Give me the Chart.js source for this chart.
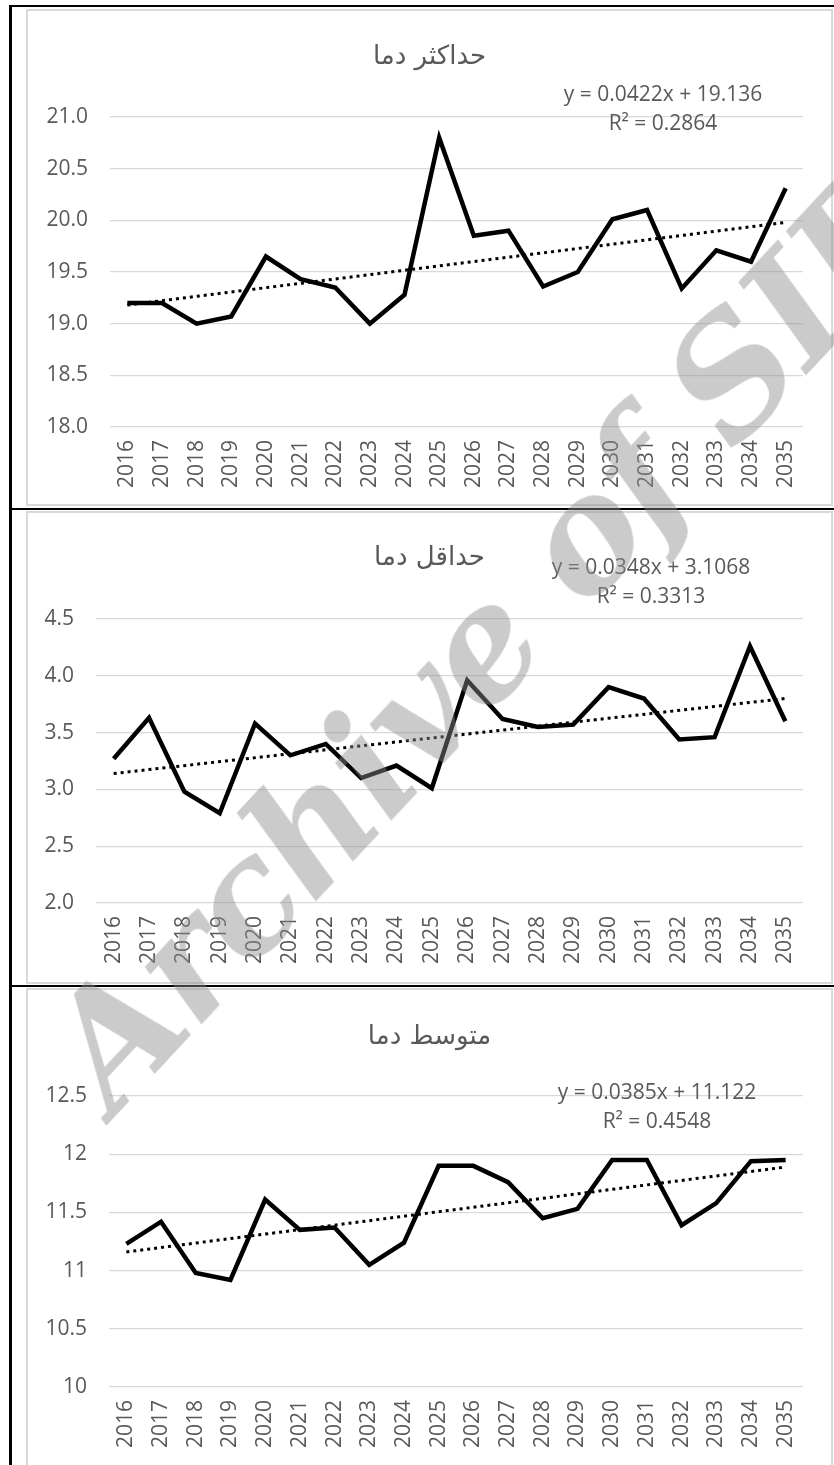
<!DOCTYPE html>
<html>
<head>
<meta charset="utf-8">
<script src="https://cdn.jsdelivr.net/npm/chart.js@4.4.1/dist/chart.umd.min.js"></script>
<style>
  html, body { margin: 0; padding: 0; background: #fff; }
  body { width: 834px; height: 1465px; position: relative; overflow: hidden; }
  .frame { position: absolute; left: 26px; width: 807px; border: 2px solid #d9d9d9; box-sizing: border-box; }
  .frame canvas { display: block; }
  .rule { position: absolute; background: #000; }
  #mark {
    position: absolute; left: 491px; top: 634px;
    transform: translate(-50%, -50%) rotate(-47deg);
    font: italic bold 156px "DejaVu Serif";
    letter-spacing: -3px;
    color: rgba(140, 140, 140, 0.45);
    white-space: nowrap; line-height: 1; pointer-events: none;
  }
</style>
</head>
<body>
<div class="rule" style="left:9px;top:5px;width:3px;height:1465px"></div>
<div class="rule" style="left:9px;top:5px;width:825px;height:2px"></div>
<div class="rule" style="left:9px;top:508px;width:825px;height:2px"></div>
<div class="rule" style="left:9px;top:985px;width:825px;height:2px"></div>

<div class="frame" style="top:9px;height:497px"><canvas id="c1" width="803" height="493"></canvas></div>
<div class="frame" style="top:511px;height:473px"><canvas id="c2" width="803" height="469"></canvas></div>
<div class="frame" style="top:988px;height:482px"><canvas id="c3" width="803" height="478"></canvas></div>

<div id="mark">Archive of SID</div>

<script>
// years on the x axis
const years = ['2016', '2017', '2018', '2019', '2020', '2021', '2022', '2023', '2024', '2025',
               '2026', '2027', '2028', '2029', '2030', '2031', '2032', '2033', '2034', '2035'];

// maximum temperature
const maxTemp = [19.2, 19.2, 19.0, 19.07, 19.65, 19.43, 19.35, 19.0, 19.28, 20.8,
                 19.85, 19.9, 19.36, 19.5, 20.01, 20.1, 19.34, 19.71, 19.6, 20.31];
const maxTrend = [19.18, 19.98];
// minimum temperature
const minTemp = [3.27, 3.63, 2.98, 2.79, 3.58, 3.30, 3.40, 3.10, 3.21, 3.01,
                 3.96, 3.62, 3.55, 3.57, 3.90, 3.80, 3.44, 3.46, 4.26, 3.60];
const minTrend = [3.14, 3.80];
// mean temperature
const meanTemp = [11.23, 11.42, 10.98, 10.92, 11.61, 11.35, 11.37, 11.05, 11.24, 11.90,
                  11.90, 11.76, 11.45, 11.53, 11.95, 11.95, 11.39, 11.58, 11.94, 11.95];
const meanTrend = [11.16, 11.89];

const titles = ['حداکثر دما', 'حداقل دما', 'متوسط دما'];
const equations = [
  ['y = 0.0422x + 19.136', 'R² = 0.2864'],
  ['y = 0.0348x + 3.1068', 'R² = 0.3313'],
  ['y = 0.0385x + 11.122', 'R² = 0.4548']
];

const GRAY = '#595959';
const tickFont = { family: '"Open Sans"', size: 21 };

// chart title and trendline equation text
const chartText = {
  id: 'chartText',
  afterDraw(chart, args, opts) {
    const ctx = chart.ctx;
    ctx.save();
    ctx.fillStyle = GRAY;
    ctx.textAlign = 'center';
    ctx.textBaseline = 'middle';
    ctx.font = '26px "DejaVu Sans"';
    ctx.fillText(opts.title, chart.width / 2, opts.titleY);
    ctx.font = '21px "Open Sans"';
    ctx.fillText(opts.eq[0], opts.eqX, opts.eqY);
    ctx.fillText(opts.eq[1], opts.eqX, opts.eqY + 29);
    ctx.restore();
  }
};

function makeChart(id, values, trend, yMin, yMax, fmt, title, titleY, plotLeft, bottomSpace, eq, eqX, eqY) {
  return new Chart(document.getElementById(id), {
    type: 'line',
    data: {
      labels: years,
      datasets: [{
        data: values,
        borderColor: '#000',
        borderWidth: 4.5,
        pointRadius: 0,
        tension: 0,
        borderJoinStyle: 'miter'
      }, {
        data: [{ x: years[0], y: trend[0] }, { x: years[years.length - 1], y: trend[1] }],
        borderColor: '#000',
        borderWidth: 3,
        borderDash: [3, 4],
        pointRadius: 0
      }]
    },
    options: {
      responsive: false,
      animation: false,
      layout: { padding: { left: 0, right: 28, top: 106, bottom: 0 } },
      plugins: {
        legend: { display: false },
        tooltip: { enabled: false },
        title: { display: false },
        chartText: { title: title, titleY: titleY, eq: eq, eqX: eqX, eqY: eqY }
      },
      scales: {
        x: {
          offset: true,
          grid: { display: false, drawTicks: false },
          border: { display: false },
          ticks: { color: GRAY, font: tickFont, minRotation: 90, maxRotation: 90, padding: 13, autoSkip: false },
          afterFit: function (s) { s.height = bottomSpace; }
        },
        y: {
          min: yMin,
          max: yMax,
          grid: { color: '#d9d9d9', lineWidth: 1.3, drawTicks: false },
          border: { display: false },
          ticks: { stepSize: 0.5, color: GRAY, font: tickFont, padding: 22, callback: fmt },
          afterFit: function (s) { s.width = plotLeft; }
        }
      }
    },
    plugins: [chartText]
  });
}

const oneDecimal = function (v) { return v.toFixed(1); };
const plain = function (v) { return String(v); };

makeChart('c1', maxTemp, maxTrend, 18, 21, oneDecimal, titles[0], 46, 82, 77, equations[0], 635, 84);
makeChart('c2', minTemp, minTrend, 2, 4.5, oneDecimal, titles[1], 45, 68, 79, equations[1], 623, 55);
makeChart('c3', meanTemp, meanTrend, 10, 12.5, plain, titles[2], 47, 81, 81, equations[2], 629, 103);
</script>
</body>
</html>
